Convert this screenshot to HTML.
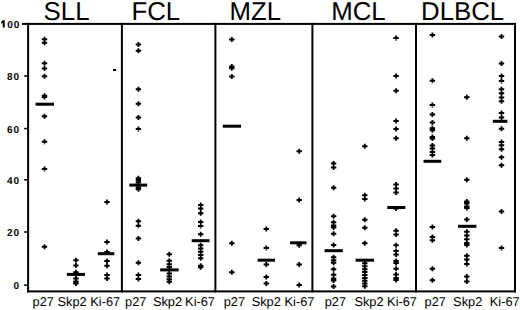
<!DOCTYPE html>
<html><head><meta charset="utf-8"><title>Chart</title>
<style>
html,body{margin:0;padding:0;background:#fff;}
body{width:520px;height:310px;overflow:hidden;}
svg{display:block;}
text{font-family:"Liberation Sans",sans-serif;fill:#000;text-rendering:geometricPrecision;}
.t{font-size:25.8px;}
.l{font-size:12.8px;}
.y{font-size:10px;font-weight:bold;letter-spacing:1px;}
</style></head><body>

<svg width="520" height="310" viewBox="0 0 520 310">
<rect x="0" y="0" width="520" height="310" fill="#fff"/>
<g fill="#000">
<rect x="22.00" y="22.90" width="494.00" height="2.00"/>
<rect x="27.10" y="290.40" width="488.90" height="2.00"/>
<rect x="27.10" y="22.90" width="2.00" height="269.50"/>
<rect x="120.90" y="22.90" width="2.00" height="269.50"/>
<rect x="214.40" y="22.90" width="2.00" height="269.50"/>
<rect x="311.40" y="22.90" width="2.00" height="269.50"/>
<rect x="415.00" y="22.90" width="2.00" height="269.50"/>
<rect x="514.00" y="22.90" width="2.00" height="269.50"/>
<rect x="24.20" y="75.20" width="3.80" height="1.60"/>
<rect x="24.20" y="127.80" width="3.80" height="1.60"/>
<rect x="24.20" y="179.00" width="3.80" height="1.60"/>
<rect x="24.20" y="231.20" width="3.80" height="1.60"/>
<rect x="24.20" y="284.40" width="3.80" height="1.60"/>
<rect x="113.00" y="69.00" width="3.20" height="2.00"/>
<rect x="35.60" y="102.70" width="18.40" height="3.00"/>
<rect x="66.90" y="272.90" width="18.10" height="3.00"/>
<rect x="97.80" y="252.20" width="16.50" height="3.00"/>
<rect x="129.30" y="183.60" width="17.90" height="3.00"/>
<rect x="160.20" y="268.40" width="18.50" height="3.00"/>
<rect x="191.70" y="239.20" width="17.80" height="3.00"/>
<rect x="222.80" y="124.70" width="18.20" height="3.00"/>
<rect x="257.60" y="258.70" width="17.40" height="3.00"/>
<rect x="290.10" y="241.30" width="16.40" height="3.00"/>
<rect x="324.60" y="249.20" width="18.20" height="3.00"/>
<rect x="355.60" y="258.70" width="18.40" height="3.00"/>
<rect x="387.30" y="206.00" width="18.10" height="3.00"/>
<rect x="423.50" y="159.80" width="17.70" height="3.00"/>
<rect x="458.00" y="224.80" width="18.40" height="3.00"/>
<rect x="492.80" y="119.80" width="14.60" height="3.00"/>
</g>
<path fill="#000" d="M41.80 38.30H47.20V40.30H41.80zM43.60 36.80H45.40V41.80H43.60zM44.50 37.20L46.60 39.30L44.50 41.40L42.40 39.30zM41.80 41.80H47.20V43.80H41.80zM43.60 40.30H45.40V45.30H43.60zM44.50 40.70L46.60 42.80L44.50 44.90L42.40 42.80zM41.80 62.30H47.20V64.30H41.80zM43.60 60.80H45.40V65.80H43.60zM44.50 61.20L46.60 63.30L44.50 65.40L42.40 63.30zM41.80 67.40H47.20V69.40H41.80zM43.60 65.90H45.40V70.90H43.60zM44.50 66.30L46.60 68.40L44.50 70.50L42.40 68.40zM41.80 75.30H47.20V77.30H41.80zM43.60 73.80H45.40V78.80H43.60zM44.50 74.20L46.60 76.30L44.50 78.40L42.40 76.30zM41.80 94.80H47.20V96.80H41.80zM43.60 93.30H45.40V98.30H43.60zM44.50 93.70L46.60 95.80L44.50 97.90L42.40 95.80zM41.80 96.00H47.20V98.00H41.80zM43.60 94.50H45.40V99.50H43.60zM44.50 94.90L46.60 97.00L44.50 99.10L42.40 97.00zM41.80 115.20H47.20V117.20H41.80zM43.60 113.70H45.40V118.70H43.60zM44.50 114.10L46.60 116.20L44.50 118.30L42.40 116.20zM41.80 140.80H47.20V142.80H41.80zM43.60 139.30H45.40V144.30H43.60zM44.50 139.70L46.60 141.80L44.50 143.90L42.40 141.80zM41.80 167.90H47.20V169.90H41.80zM43.60 166.40H45.40V171.40H43.60zM44.50 166.80L46.60 168.90L44.50 171.00L42.40 168.90zM41.80 245.70H47.20V247.70H41.80zM43.60 244.20H45.40V249.20H43.60zM44.50 244.60L46.60 246.70L44.50 248.80L42.40 246.70zM73.20 259.30H78.60V261.30H73.20zM75.00 257.80H76.80V262.80H75.00zM75.90 258.20L78.00 260.30L75.90 262.40L73.80 260.30zM73.20 264.50H78.60V266.50H73.20zM75.00 263.00H76.80V268.00H75.00zM75.90 263.40L78.00 265.50L75.90 267.60L73.80 265.50zM73.20 271.20H78.60V273.20H73.20zM75.00 269.70H76.80V274.70H75.00zM75.90 270.10L78.00 272.20L75.90 274.30L73.80 272.20zM73.20 277.40H78.60V279.40H73.20zM75.00 275.90H76.80V280.90H75.00zM75.90 276.30L78.00 278.40L75.90 280.50L73.80 278.40zM73.20 280.50H78.60V282.50H73.20zM75.00 279.00H76.80V284.00H75.00zM75.90 279.40L78.00 281.50L75.90 283.60L73.80 281.50zM73.20 282.50H78.60V284.50H73.20zM75.00 281.00H76.80V286.00H75.00zM75.90 281.40L78.00 283.50L75.90 285.60L73.80 283.50zM104.30 200.90H109.70V202.90H104.30zM106.10 199.40H107.90V204.40H106.10zM107.00 199.80L109.10 201.90L107.00 204.00L104.90 201.90zM104.30 241.00H109.70V243.00H104.30zM106.10 239.50H107.90V244.50H106.10zM107.00 239.90L109.10 242.00L107.00 244.10L104.90 242.00zM104.30 251.00H109.70V253.00H104.30zM106.10 249.50H107.90V254.50H106.10zM107.00 249.90L109.10 252.00L107.00 254.10L104.90 252.00zM104.30 260.00H109.70V262.00H104.30zM106.10 258.50H107.90V263.50H106.10zM107.00 258.90L109.10 261.00L107.00 263.10L104.90 261.00zM104.30 264.80H109.70V266.80H104.30zM106.10 263.30H107.90V268.30H106.10zM107.00 263.70L109.10 265.80L107.00 267.90L104.90 265.80zM104.30 273.90H109.70V275.90H104.30zM106.10 272.40H107.90V277.40H106.10zM107.00 272.80L109.10 274.90L107.00 277.00L104.90 274.90zM104.30 277.40H109.70V279.40H104.30zM106.10 275.90H107.90V280.90H106.10zM107.00 276.30L109.10 278.40L107.00 280.50L104.90 278.40zM135.70 43.40H141.10V45.40H135.70zM137.50 41.90H139.30V46.90H137.50zM138.40 42.30L140.50 44.40L138.40 46.50L136.30 44.40zM135.70 49.70H141.10V51.70H135.70zM137.50 48.20H139.30V53.20H137.50zM138.40 48.60L140.50 50.70L138.40 52.80L136.30 50.70zM135.70 88.20H141.10V90.20H135.70zM137.50 86.70H139.30V91.70H137.50zM138.40 87.10L140.50 89.20L138.40 91.30L136.30 89.20zM135.70 102.70H141.10V104.70H135.70zM137.50 101.20H139.30V106.20H137.50zM138.40 101.60L140.50 103.70L138.40 105.80L136.30 103.70zM135.70 116.40H141.10V118.40H135.70zM137.50 114.90H139.30V119.90H137.50zM138.40 115.30L140.50 117.40L138.40 119.50L136.30 117.40zM135.70 127.90H141.10V129.90H135.70zM137.50 126.40H139.30V131.40H137.50zM138.40 126.80L140.50 128.90L138.40 131.00L136.30 128.90zM135.70 177.30H141.10V179.30H135.70zM137.50 175.80H139.30V180.80H137.50zM138.40 176.20L140.50 178.30L138.40 180.40L136.30 178.30zM135.70 179.30H141.10V181.30H135.70zM137.50 177.80H139.30V182.80H137.50zM138.40 178.20L140.50 180.30L138.40 182.40L136.30 180.30zM135.70 181.40H141.10V183.40H135.70zM137.50 179.90H139.30V184.90H137.50zM138.40 180.30L140.50 182.40L138.40 184.50L136.30 182.40zM135.70 186.60H141.10V188.60H135.70zM137.50 185.10H139.30V190.10H137.50zM138.40 185.50L140.50 187.60L138.40 189.70L136.30 187.60zM135.70 188.20H141.10V190.20H135.70zM137.50 186.70H139.30V191.70H137.50zM138.40 187.10L140.50 189.20L138.40 191.30L136.30 189.20zM135.70 220.30H141.10V222.30H135.70zM137.50 218.80H139.30V223.80H137.50zM138.40 219.20L140.50 221.30L138.40 223.40L136.30 221.30zM135.70 224.80H141.10V226.80H135.70zM137.50 223.30H139.30V228.30H137.50zM138.40 223.70L140.50 225.80L138.40 227.90L136.30 225.80zM135.70 237.50H141.10V239.50H135.70zM137.50 236.00H139.30V241.00H137.50zM138.40 236.40L140.50 238.50L138.40 240.60L136.30 238.50zM135.70 261.80H141.10V263.80H135.70zM137.50 260.30H139.30V265.30H137.50zM138.40 260.70L140.50 262.80L138.40 264.90L136.30 262.80zM135.70 273.90H141.10V275.90H135.70zM137.50 272.40H139.30V277.40H137.50zM138.40 272.80L140.50 274.90L138.40 277.00L136.30 274.90zM135.70 278.00H141.10V280.00H135.70zM137.50 276.50H139.30V281.50H137.50zM138.40 276.90L140.50 279.00L138.40 281.10L136.30 279.00zM166.60 253.30H172.00V255.30H166.60zM168.40 251.80H170.20V256.80H168.40zM169.30 252.20L171.40 254.30L169.30 256.40L167.20 254.30zM166.60 259.80H172.00V261.80H166.60zM168.40 258.30H170.20V263.30H168.40zM169.30 258.70L171.40 260.80L169.30 262.90L167.20 260.80zM166.60 263.30H172.00V265.30H166.60zM168.40 261.80H170.20V266.80H168.40zM169.30 262.20L171.40 264.30L169.30 266.40L167.20 264.30zM166.60 266.00H172.00V268.00H166.60zM168.40 264.50H170.20V269.50H168.40zM169.30 264.90L171.40 267.00L169.30 269.10L167.20 267.00zM166.60 272.50H172.00V274.50H166.60zM168.40 271.00H170.20V276.00H168.40zM169.30 271.40L171.40 273.50L169.30 275.60L167.20 273.50zM166.60 275.50H172.00V277.50H166.60zM168.40 274.00H170.20V279.00H168.40zM169.30 274.40L171.40 276.50L169.30 278.60L167.20 276.50zM166.60 278.30H172.00V280.30H166.60zM168.40 276.80H170.20V281.80H168.40zM169.30 277.20L171.40 279.30L169.30 281.40L167.20 279.30zM166.60 280.70H172.00V282.70H166.60zM168.40 279.20H170.20V284.20H168.40zM169.30 279.60L171.40 281.70L169.30 283.80L167.20 281.70zM198.00 204.00H203.40V206.00H198.00zM199.80 202.50H201.60V207.50H199.80zM200.70 202.90L202.80 205.00L200.70 207.10L198.60 205.00zM198.00 207.60H203.40V209.60H198.00zM199.80 206.10H201.60V211.10H199.80zM200.70 206.50L202.80 208.60L200.70 210.70L198.60 208.60zM198.00 212.20H203.40V214.20H198.00zM199.80 210.70H201.60V215.70H199.80zM200.70 211.10L202.80 213.20L200.70 215.30L198.60 213.20zM198.00 221.10H203.40V223.10H198.00zM199.80 219.60H201.60V224.60H199.80zM200.70 220.00L202.80 222.10L200.70 224.20L198.60 222.10zM198.00 224.90H203.40V226.90H198.00zM199.80 223.40H201.60V228.40H199.80zM200.70 223.80L202.80 225.90L200.70 228.00L198.60 225.90zM198.00 233.20H203.40V235.20H198.00zM199.80 231.70H201.60V236.70H199.80zM200.70 232.10L202.80 234.20L200.70 236.30L198.60 234.20zM198.00 244.20H203.40V246.20H198.00zM199.80 242.70H201.60V247.70H199.80zM200.70 243.10L202.80 245.20L200.70 247.30L198.60 245.20zM198.00 247.50H203.40V249.50H198.00zM199.80 246.00H201.60V251.00H199.80zM200.70 246.40L202.80 248.50L200.70 250.60L198.60 248.50zM198.00 250.80H203.40V252.80H198.00zM199.80 249.30H201.60V254.30H199.80zM200.70 249.70L202.80 251.80L200.70 253.90L198.60 251.80zM198.00 254.00H203.40V256.00H198.00zM199.80 252.50H201.60V257.50H199.80zM200.70 252.90L202.80 255.00L200.70 257.10L198.60 255.00zM198.00 257.30H203.40V259.30H198.00zM199.80 255.80H201.60V260.80H199.80zM200.70 256.20L202.80 258.30L200.70 260.40L198.60 258.30zM198.00 264.80H203.40V266.80H198.00zM199.80 263.30H201.60V268.30H199.80zM200.70 263.70L202.80 265.80L200.70 267.90L198.60 265.80zM198.00 266.20H203.40V268.20H198.00zM199.80 264.70H201.60V269.70H199.80zM200.70 265.10L202.80 267.20L200.70 269.30L198.60 267.20zM229.10 38.60H234.50V40.60H229.10zM230.90 37.10H232.70V42.10H230.90zM231.80 37.50L233.90 39.60L231.80 41.70L229.70 39.60zM229.10 65.50H234.50V67.50H229.10zM230.90 64.00H232.70V69.00H230.90zM231.80 64.40L233.90 66.50L231.80 68.60L229.70 66.50zM229.10 67.30H234.50V69.30H229.10zM230.90 65.80H232.70V70.80H230.90zM231.80 66.20L233.90 68.30L231.80 70.40L229.70 68.30zM229.10 75.40H234.50V77.40H229.10zM230.90 73.90H232.70V78.90H230.90zM231.80 74.30L233.90 76.40L231.80 78.50L229.70 76.40zM229.10 242.30H234.50V244.30H229.10zM230.90 240.80H232.70V245.80H230.90zM231.80 241.20L233.90 243.30L231.80 245.40L229.70 243.30zM229.10 271.20H234.50V273.20H229.10zM230.90 269.70H232.70V274.70H230.90zM231.80 270.10L233.90 272.20L231.80 274.30L229.70 272.20zM263.60 228.10H269.00V230.10H263.60zM265.40 226.60H267.20V231.60H265.40zM266.30 227.00L268.40 229.10L266.30 231.20L264.20 229.10zM263.60 247.00H269.00V249.00H263.60zM265.40 245.50H267.20V250.50H265.40zM266.30 245.90L268.40 248.00L266.30 250.10L264.20 248.00zM263.60 263.60H269.00V265.60H263.60zM265.40 262.10H267.20V267.10H265.40zM266.30 262.50L268.40 264.60L266.30 266.70L264.20 264.60zM263.60 276.00H269.00V278.00H263.60zM265.40 274.50H267.20V279.50H265.40zM266.30 274.90L268.40 277.00L266.30 279.10L264.20 277.00zM263.60 282.40H269.00V284.40H263.60zM265.40 280.90H267.20V285.90H265.40zM266.30 281.30L268.40 283.40L266.30 285.50L264.20 283.40zM296.50 150.30H301.90V152.30H296.50zM298.30 148.80H300.10V153.80H298.30zM299.20 149.20L301.30 151.30L299.20 153.40L297.10 151.30zM296.50 199.10H301.90V201.10H296.50zM298.30 197.60H300.10V202.60H298.30zM299.20 198.00L301.30 200.10L299.20 202.20L297.10 200.10zM296.50 244.20H301.90V246.20H296.50zM298.30 242.70H300.10V247.70H298.30zM299.20 243.10L301.30 245.20L299.20 247.30L297.10 245.20zM296.50 263.60H301.90V265.60H296.50zM298.30 262.10H300.10V267.10H298.30zM299.20 262.50L301.30 264.60L299.20 266.70L297.10 264.60zM296.50 284.00H301.90V286.00H296.50zM298.30 282.50H300.10V287.50H298.30zM299.20 282.90L301.30 285.00L299.20 287.10L297.10 285.00zM330.90 162.50H336.30V164.50H330.90zM332.70 161.00H334.50V166.00H332.70zM333.60 161.40L335.70 163.50L333.60 165.60L331.50 163.50zM330.90 166.40H336.30V168.40H330.90zM332.70 164.90H334.50V169.90H332.70zM333.60 165.30L335.70 167.40L333.60 169.50L331.50 167.40zM330.90 186.70H336.30V188.70H330.90zM332.70 185.20H334.50V190.20H332.70zM333.60 185.60L335.70 187.70L333.60 189.80L331.50 187.70zM330.90 215.30H336.30V217.30H330.90zM332.70 213.80H334.50V218.80H332.70zM333.60 214.20L335.70 216.30L333.60 218.40L331.50 216.30zM330.90 221.30H336.30V223.30H330.90zM332.70 219.80H334.50V224.80H332.70zM333.60 220.20L335.70 222.30L333.60 224.40L331.50 222.30zM330.90 224.50H336.30V226.50H330.90zM332.70 223.00H334.50V228.00H332.70zM333.60 223.40L335.70 225.50L333.60 227.60L331.50 225.50zM330.90 226.50H336.30V228.50H330.90zM332.70 225.00H334.50V230.00H332.70zM333.60 225.40L335.70 227.50L333.60 229.60L331.50 227.50zM330.90 232.70H336.30V234.70H330.90zM332.70 231.20H334.50V236.20H332.70zM333.60 231.60L335.70 233.70L333.60 235.80L331.50 233.70zM330.90 244.00H336.30V246.00H330.90zM332.70 242.50H334.50V247.50H332.70zM333.60 242.90L335.70 245.00L333.60 247.10L331.50 245.00zM330.90 256.30H336.30V258.30H330.90zM332.70 254.80H334.50V259.80H332.70zM333.60 255.20L335.70 257.30L333.60 259.40L331.50 257.30zM330.90 259.30H336.30V261.30H330.90zM332.70 257.80H334.50V262.80H332.70zM333.60 258.20L335.70 260.30L333.60 262.40L331.50 260.30zM330.90 261.80H336.30V263.80H330.90zM332.70 260.30H334.50V265.30H332.70zM333.60 260.70L335.70 262.80L333.60 264.90L331.50 262.80zM330.90 268.30H336.30V270.30H330.90zM332.70 266.80H334.50V271.80H332.70zM333.60 267.20L335.70 269.30L333.60 271.40L331.50 269.30zM330.90 273.70H336.30V275.70H330.90zM332.70 272.20H334.50V277.20H332.70zM333.60 272.60L335.70 274.70L333.60 276.80L331.50 274.70zM330.90 277.50H336.30V279.50H330.90zM332.70 276.00H334.50V281.00H332.70zM333.60 276.40L335.70 278.50L333.60 280.60L331.50 278.50zM330.90 279.50H336.30V281.50H330.90zM332.70 278.00H334.50V283.00H332.70zM333.60 278.40L335.70 280.50L333.60 282.60L331.50 280.50zM330.90 285.60H336.30V287.60H330.90zM332.70 284.10H334.50V289.10H332.70zM333.60 284.50L335.70 286.60L333.60 288.70L331.50 286.60zM362.10 145.30H367.50V147.30H362.10zM363.90 143.80H365.70V148.80H363.90zM364.80 144.20L366.90 146.30L364.80 148.40L362.70 146.30zM362.10 194.30H367.50V196.30H362.10zM363.90 192.80H365.70V197.80H363.90zM364.80 193.20L366.90 195.30L364.80 197.40L362.70 195.30zM362.10 197.90H367.50V199.90H362.10zM363.90 196.40H365.70V201.40H363.90zM364.80 196.80L366.90 198.90L364.80 201.00L362.70 198.90zM362.10 218.70H367.50V220.70H362.10zM363.90 217.20H365.70V222.20H363.90zM364.80 217.60L366.90 219.70L364.80 221.80L362.70 219.70zM362.10 226.70H367.50V228.70H362.10zM363.90 225.20H365.70V230.20H363.90zM364.80 225.60L366.90 227.70L364.80 229.80L362.70 227.70zM362.10 242.20H367.50V244.20H362.10zM363.90 240.70H365.70V245.70H363.90zM364.80 241.10L366.90 243.20L364.80 245.30L362.70 243.20zM362.10 262.30H367.50V264.30H362.10zM363.90 260.80H365.70V265.80H363.90zM364.80 261.20L366.90 263.30L364.80 265.40L362.70 263.30zM362.10 265.30H367.50V267.30H362.10zM363.90 263.80H365.70V268.80H363.90zM364.80 264.20L366.90 266.30L364.80 268.40L362.70 266.30zM362.10 268.20H367.50V270.20H362.10zM363.90 266.70H365.70V271.70H363.90zM364.80 267.10L366.90 269.20L364.80 271.30L362.70 269.20zM362.10 271.10H367.50V273.10H362.10zM363.90 269.60H365.70V274.60H363.90zM364.80 270.00L366.90 272.10L364.80 274.20L362.70 272.10zM362.10 274.00H367.50V276.00H362.10zM363.90 272.50H365.70V277.50H363.90zM364.80 272.90L366.90 275.00L364.80 277.10L362.70 275.00zM362.10 276.90H367.50V278.90H362.10zM363.90 275.40H365.70V280.40H363.90zM364.80 275.80L366.90 277.90L364.80 280.00L362.70 277.90zM362.10 279.80H367.50V281.80H362.10zM363.90 278.30H365.70V283.30H363.90zM364.80 278.70L366.90 280.80L364.80 282.90L362.70 280.80zM362.10 282.60H367.50V284.60H362.10zM363.90 281.10H365.70V286.10H363.90zM364.80 281.50L366.90 283.60L364.80 285.70L362.70 283.60zM362.10 285.20H367.50V287.20H362.10zM363.90 283.70H365.70V288.70H363.90zM364.80 284.10L366.90 286.20L364.80 288.30L362.70 286.20zM393.40 36.90H398.80V38.90H393.40zM395.20 35.40H397.00V40.40H395.20zM396.10 35.80L398.20 37.90L396.10 40.00L394.00 37.90zM393.40 75.10H398.80V77.10H393.40zM395.20 73.60H397.00V78.60H395.20zM396.10 74.00L398.20 76.10L396.10 78.20L394.00 76.10zM393.40 89.70H398.80V91.70H393.40zM395.20 88.20H397.00V93.20H395.20zM396.10 88.60L398.20 90.70L396.10 92.80L394.00 90.70zM393.40 120.00H398.80V122.00H393.40zM395.20 118.50H397.00V123.50H395.20zM396.10 118.90L398.20 121.00L396.10 123.10L394.00 121.00zM393.40 127.90H398.80V129.90H393.40zM395.20 126.40H397.00V131.40H395.20zM396.10 126.80L398.20 128.90L396.10 131.00L394.00 128.90zM393.40 137.20H398.80V139.20H393.40zM395.20 135.70H397.00V140.70H395.20zM396.10 136.10L398.20 138.20L396.10 140.30L394.00 138.20zM393.40 183.50H398.80V185.50H393.40zM395.20 182.00H397.00V187.00H395.20zM396.10 182.40L398.20 184.50L396.10 186.60L394.00 184.50zM393.40 187.50H398.80V189.50H393.40zM395.20 186.00H397.00V191.00H395.20zM396.10 186.40L398.20 188.50L396.10 190.60L394.00 188.50zM393.40 191.50H398.80V193.50H393.40zM395.20 190.00H397.00V195.00H395.20zM396.10 190.40L398.20 192.50L396.10 194.60L394.00 192.50zM393.40 207.50H398.80V209.50H393.40zM395.20 206.00H397.00V211.00H395.20zM396.10 206.40L398.20 208.50L396.10 210.60L394.00 208.50zM393.40 229.80H398.80V231.80H393.40zM395.20 228.30H397.00V233.30H395.20zM396.10 228.70L398.20 230.80L396.10 232.90L394.00 230.80zM393.40 233.60H398.80V235.60H393.40zM395.20 232.10H397.00V237.10H395.20zM396.10 232.50L398.20 234.60L396.10 236.70L394.00 234.60zM393.40 244.30H398.80V246.30H393.40zM395.20 242.80H397.00V247.80H395.20zM396.10 243.20L398.20 245.30L396.10 247.40L394.00 245.30zM393.40 249.90H398.80V251.90H393.40zM395.20 248.40H397.00V253.40H395.20zM396.10 248.80L398.20 250.90L396.10 253.00L394.00 250.90zM393.40 253.60H398.80V255.60H393.40zM395.20 252.10H397.00V257.10H395.20zM396.10 252.50L398.20 254.60L396.10 256.70L394.00 254.60zM393.40 260.00H398.80V262.00H393.40zM395.20 258.50H397.00V263.50H395.20zM396.10 258.90L398.20 261.00L396.10 263.10L394.00 261.00zM393.40 262.00H398.80V264.00H393.40zM395.20 260.50H397.00V265.50H395.20zM396.10 260.90L398.20 263.00L396.10 265.10L394.00 263.00zM393.40 267.70H398.80V269.70H393.40zM395.20 266.20H397.00V271.20H395.20zM396.10 266.60L398.20 268.70L396.10 270.80L394.00 268.70zM393.40 273.40H398.80V275.40H393.40zM395.20 271.90H397.00V276.90H395.20zM396.10 272.30L398.20 274.40L396.10 276.50L394.00 274.40zM393.40 277.00H398.80V279.00H393.40zM395.20 275.50H397.00V280.50H395.20zM396.10 275.90L398.20 278.00L396.10 280.10L394.00 278.00zM393.40 279.00H398.80V281.00H393.40zM395.20 277.50H397.00V282.50H395.20zM396.10 277.90L398.20 280.00L396.10 282.10L394.00 280.00zM429.70 34.00H435.10V36.00H429.70zM431.50 32.50H433.30V37.50H431.50zM432.40 32.90L434.50 35.00L432.40 37.10L430.30 35.00zM429.70 79.80H435.10V81.80H429.70zM431.50 78.30H433.30V83.30H431.50zM432.40 78.70L434.50 80.80L432.40 82.90L430.30 80.80zM429.70 104.00H435.10V106.00H429.70zM431.50 102.50H433.30V107.50H431.50zM432.40 102.90L434.50 105.00L432.40 107.10L430.30 105.00zM429.70 113.50H435.10V115.50H429.70zM431.50 112.00H433.30V117.00H431.50zM432.40 112.40L434.50 114.50L432.40 116.60L430.30 114.50zM429.70 121.50H435.10V123.50H429.70zM431.50 120.00H433.30V125.00H431.50zM432.40 120.40L434.50 122.50L432.40 124.60L430.30 122.50zM429.70 127.30H435.10V129.30H429.70zM431.50 125.80H433.30V130.80H431.50zM432.40 126.20L434.50 128.30L432.40 130.40L430.30 128.30zM429.70 129.30H435.10V131.30H429.70zM431.50 127.80H433.30V132.80H431.50zM432.40 128.20L434.50 130.30L432.40 132.40L430.30 130.30zM429.70 136.00H435.10V138.00H429.70zM431.50 134.50H433.30V139.50H431.50zM432.40 134.90L434.50 137.00L432.40 139.10L430.30 137.00zM429.70 137.50H435.10V139.50H429.70zM431.50 136.00H433.30V141.00H431.50zM432.40 136.40L434.50 138.50L432.40 140.60L430.30 138.50zM429.70 144.40H435.10V146.40H429.70zM431.50 142.90H433.30V147.90H431.50zM432.40 143.30L434.50 145.40L432.40 147.50L430.30 145.40zM429.70 147.60H435.10V149.60H429.70zM431.50 146.10H433.30V151.10H431.50zM432.40 146.50L434.50 148.60L432.40 150.70L430.30 148.60zM429.70 150.90H435.10V152.90H429.70zM431.50 149.40H433.30V154.40H431.50zM432.40 149.80L434.50 151.90L432.40 154.00L430.30 151.90zM429.70 154.10H435.10V156.10H429.70zM431.50 152.60H433.30V157.60H431.50zM432.40 153.00L434.50 155.10L432.40 157.20L430.30 155.10zM429.70 226.00H435.10V228.00H429.70zM431.50 224.50H433.30V229.50H431.50zM432.40 224.90L434.50 227.00L432.40 229.10L430.30 227.00zM429.70 235.90H435.10V237.90H429.70zM431.50 234.40H433.30V239.40H431.50zM432.40 234.80L434.50 236.90L432.40 239.00L430.30 236.90zM429.70 239.30H435.10V241.30H429.70zM431.50 237.80H433.30V242.80H431.50zM432.40 238.20L434.50 240.30L432.40 242.40L430.30 240.30zM429.70 267.80H435.10V269.80H429.70zM431.50 266.30H433.30V271.30H431.50zM432.40 266.70L434.50 268.80L432.40 270.90L430.30 268.80zM429.70 279.20H435.10V281.20H429.70zM431.50 277.70H433.30V282.70H431.50zM432.40 278.10L434.50 280.20L432.40 282.30L430.30 280.20zM464.10 96.20H469.50V98.20H464.10zM465.90 94.70H467.70V99.70H465.90zM466.80 95.10L468.90 97.20L466.80 99.30L464.70 97.20zM464.10 137.20H469.50V139.20H464.10zM465.90 135.70H467.70V140.70H465.90zM466.80 136.10L468.90 138.20L466.80 140.30L464.70 138.20zM464.10 178.70H469.50V180.70H464.10zM465.90 177.20H467.70V182.20H465.90zM466.80 177.60L468.90 179.70L466.80 181.80L464.70 179.70zM464.10 200.50H469.50V202.50H464.10zM465.90 199.00H467.70V204.00H465.90zM466.80 199.40L468.90 201.50L466.80 203.60L464.70 201.50zM464.10 202.50H469.50V204.50H464.10zM465.90 201.00H467.70V206.00H465.90zM466.80 201.40L468.90 203.50L466.80 205.60L464.70 203.50zM464.10 205.50H469.50V207.50H464.10zM465.90 204.00H467.70V209.00H465.90zM466.80 204.40L468.90 206.50L466.80 208.60L464.70 206.50zM464.10 207.00H469.50V209.00H464.10zM465.90 205.50H467.70V210.50H465.90zM466.80 205.90L468.90 208.00L466.80 210.10L464.70 208.00zM464.10 218.50H469.50V220.50H464.10zM465.90 217.00H467.70V222.00H465.90zM466.80 217.40L468.90 219.50L466.80 221.60L464.70 219.50zM464.10 230.80H469.50V232.80H464.10zM465.90 229.30H467.70V234.30H465.90zM466.80 229.70L468.90 231.80L466.80 233.90L464.70 231.80zM464.10 234.50H469.50V236.50H464.10zM465.90 233.00H467.70V238.00H465.90zM466.80 233.40L468.90 235.50L466.80 237.60L464.70 235.50zM464.10 238.30H469.50V240.30H464.10zM465.90 236.80H467.70V241.80H465.90zM466.80 237.20L468.90 239.30L466.80 241.40L464.70 239.30zM464.10 242.00H469.50V244.00H464.10zM465.90 240.50H467.70V245.50H465.90zM466.80 240.90L468.90 243.00L466.80 245.10L464.70 243.00zM464.10 244.00H469.50V246.00H464.10zM465.90 242.50H467.70V247.50H465.90zM466.80 242.90L468.90 245.00L466.80 247.10L464.70 245.00zM464.10 254.70H469.50V256.70H464.10zM465.90 253.20H467.70V258.20H465.90zM466.80 253.60L468.90 255.70L466.80 257.80L464.70 255.70zM464.10 258.60H469.50V260.60H464.10zM465.90 257.10H467.70V262.10H465.90zM466.80 257.50L468.90 259.60L466.80 261.70L464.70 259.60zM464.10 263.10H469.50V265.10H464.10zM465.90 261.60H467.70V266.60H465.90zM466.80 262.00L468.90 264.10L466.80 266.20L464.70 264.10zM464.10 275.50H469.50V277.50H464.10zM465.90 274.00H467.70V279.00H465.90zM466.80 274.40L468.90 276.50L466.80 278.60L464.70 276.50zM464.10 280.50H469.50V282.50H464.10zM465.90 279.00H467.70V284.00H465.90zM466.80 279.40L468.90 281.50L466.80 283.60L464.70 281.50zM498.80 35.50H504.20V37.50H498.80zM500.60 34.00H502.40V39.00H500.60zM501.50 34.40L503.60 36.50L501.50 38.60L499.40 36.50zM498.80 62.60H504.20V64.60H498.80zM500.60 61.10H502.40V66.10H500.60zM501.50 61.50L503.60 63.60L501.50 65.70L499.40 63.60zM498.80 75.10H504.20V77.10H498.80zM500.60 73.60H502.40V78.60H500.60zM501.50 74.00L503.60 76.10L501.50 78.20L499.40 76.10zM498.80 80.00H504.20V82.00H498.80zM500.60 78.50H502.40V83.50H500.60zM501.50 78.90L503.60 81.00L501.50 83.10L499.40 81.00zM498.80 88.30H504.20V90.30H498.80zM500.60 86.80H502.40V91.80H500.60zM501.50 87.20L503.60 89.30L501.50 91.40L499.40 89.30zM498.80 92.30H504.20V94.30H498.80zM500.60 90.80H502.40V95.80H500.60zM501.50 91.20L503.60 93.30L501.50 95.40L499.40 93.30zM498.80 96.40H504.20V98.40H498.80zM500.60 94.90H502.40V99.90H500.60zM501.50 95.30L503.60 97.40L501.50 99.50L499.40 97.40zM498.80 100.30H504.20V102.30H498.80zM500.60 98.80H502.40V103.80H500.60zM501.50 99.20L503.60 101.30L501.50 103.40L499.40 101.30zM498.80 111.90H504.20V113.90H498.80zM500.60 110.40H502.40V115.40H500.60zM501.50 110.80L503.60 112.90L501.50 115.00L499.40 112.90zM498.80 116.60H504.20V118.60H498.80zM500.60 115.10H502.40V120.10H500.60zM501.50 115.50L503.60 117.60L501.50 119.70L499.40 117.60zM498.80 127.70H504.20V129.70H498.80zM500.60 126.20H502.40V131.20H500.60zM501.50 126.60L503.60 128.70L501.50 130.80L499.40 128.70zM498.80 141.00H504.20V143.00H498.80zM500.60 139.50H502.40V144.50H500.60zM501.50 139.90L503.60 142.00L501.50 144.10L499.40 142.00zM498.80 144.30H504.20V146.30H498.80zM500.60 142.80H502.40V147.80H500.60zM501.50 143.20L503.60 145.30L501.50 147.40L499.40 145.30zM498.80 148.20H504.20V150.20H498.80zM500.60 146.70H502.40V151.70H500.60zM501.50 147.10L503.60 149.20L501.50 151.30L499.40 149.20zM498.80 156.20H504.20V158.20H498.80zM500.60 154.70H502.40V159.70H500.60zM501.50 155.10L503.60 157.20L501.50 159.30L499.40 157.20zM498.80 164.30H504.20V166.30H498.80zM500.60 162.80H502.40V167.80H500.60zM501.50 163.20L503.60 165.30L501.50 167.40L499.40 165.30zM498.80 210.40H504.20V212.40H498.80zM500.60 208.90H502.40V213.90H500.60zM501.50 209.30L503.60 211.40L501.50 213.50L499.40 211.40zM498.80 247.00H504.20V249.00H498.80zM500.60 245.50H502.40V250.50H500.60zM501.50 245.90L503.60 248.00L501.50 250.10L499.40 248.00z"/>
<text class="t" x="43.60" y="19.5">SLL</text>
<text class="t" x="131.40" y="19.5">FCL</text>
<text class="t" x="229.60" y="19.5">MZL</text>
<text class="t" x="331.20" y="19.5">MCL</text>
<text class="t" x="421.00" y="19.5">DLBCL</text>
<text class="l" x="32.60" y="305.8">p27</text>
<text class="l" x="57.50" y="305.8">Skp2</text>
<text class="l" x="90.30" y="305.8">Ki-67</text>
<text class="l" x="125.10" y="305.8">p27</text>
<text class="l" x="152.90" y="305.8">Skp2</text>
<text class="l" x="185.10" y="305.8">Ki-67</text>
<text class="l" x="223.70" y="305.8">p27</text>
<text class="l" x="251.70" y="305.8">Skp2</text>
<text class="l" x="284.50" y="305.8">Ki-67</text>
<text class="l" x="324.70" y="305.8">p27</text>
<text class="l" x="354.40" y="305.8">Skp2</text>
<text class="l" x="387.10" y="305.8">Ki-67</text>
<text class="l" x="424.60" y="305.8">p27</text>
<text class="l" x="453.10" y="305.8">Skp2</text>
<text class="l" x="489.80" y="305.8">Ki-67</text>
<text class="y" x="20.3" y="27.60" text-anchor="end">00</text>
<path fill="#000" d="M2.7 20.2H4.7V27.6H2.7zM2.7 20.2L1.0 22.2V23.8L2.7 22.4z"/>
<text class="y" x="20.0" y="80.10" text-anchor="end">80</text>
<text class="y" x="20.0" y="132.70" text-anchor="end">60</text>
<text class="y" x="20.0" y="183.90" text-anchor="end">40</text>
<text class="y" x="20.0" y="236.10" text-anchor="end">20</text>
<text class="y" x="20.0" y="289.30" text-anchor="end">0</text>
</svg>
</body></html>
